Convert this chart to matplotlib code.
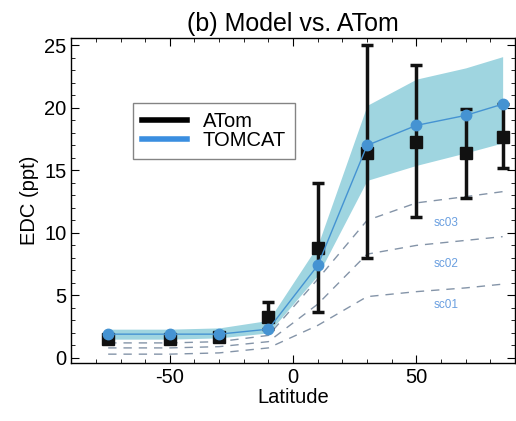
import matplotlib
matplotlib.use("Agg")
import matplotlib.pyplot as plt
from matplotlib.ticker import MultipleLocator

plt.rcParams["font.family"] = ["Liberation Sans", "DejaVu Sans"]
plt.rcParams["axes.unicode_minus"] = False

# latitude bins
lat = [-75, -50, -30, -10, 10, 30, 50, 70, 85]

# ATom observations (mean and error bar range)
atom = [1.5, 1.5, 1.7, 3.3, 8.8, 16.4, 17.3, 16.4, 17.7]
atom_lo = [1.3, 1.3, 1.5, 2.3, 3.7, 8.0, 11.3, 12.8, 15.2]
atom_hi = [1.8, 1.8, 1.9, 4.5, 14.0, 25.0, 23.4, 19.9, 20.3]

# TOMCAT model and spread
tomcat = [1.9, 1.9, 1.9, 2.3, 7.4, 17.0, 18.6, 19.4, 20.3]
tomcat_lo = [1.5, 1.5, 1.6, 2.0, 6.6, 14.2, 15.4, 16.4, 17.2]
tomcat_hi = [2.3, 2.3, 2.4, 3.0, 9.0, 20.2, 22.3, 23.2, 24.1]

# sensitivity scenarios
sc01 = [0.3, 0.3, 0.4, 0.8, 2.6, 4.9, 5.3, 5.6, 5.9]
sc02 = [0.8, 0.8, 0.9, 1.3, 4.3, 8.3, 9.0, 9.4, 9.7]
sc03 = [1.2, 1.2, 1.3, 1.8, 6.3, 11.0, 12.4, 12.9, 13.3]
sc_names = ["sc01", "sc02", "sc03"]
sc_label_pos = [(62, 4.2), (62, 7.5), (62, 10.8)]

blue = "#4593d2"

fig, ax = plt.subplots(figsize=(5.16, 4.21), dpi=100)
fig.subplots_adjust(left=0.138, right=0.998, top=0.91, bottom=0.138)

ax.fill_between(lat, tomcat_lo, tomcat_hi, color="#9fd5e0", lw=0, zorder=1)

for sc in (sc01, sc02, sc03):
    ax.plot(lat, sc, color="#8494a8", lw=1.0, ls=(0, (6, 5)), zorder=2)
for name, (x, y) in zip(sc_names, sc_label_pos):
    ax.text(x, y, name, color="#6a9fe0", fontsize=8.5, ha="center", va="center")

yerr = [[a - l for a, l in zip(atom, atom_lo)], [h - a for a, h in zip(atom, atom_hi)]]
ax.errorbar(lat, atom, yerr=yerr, fmt="s", color="#111111", ms=8, lw=2.5,
            capsize=4, capthick=2.5, zorder=4)
ax.plot(lat, tomcat, color=blue, lw=1.0, marker="o", ms=7.5, zorder=5)

ax.plot([], [], color="black", lw=4, label="ATom")
ax.plot([], [], color="#3a8ee0", lw=4, label="TOMCAT")
leg = ax.legend(loc="upper left", bbox_to_anchor=(0.14, 0.80), fontsize=14.5,
                frameon=True, fancybox=False, edgecolor="#666666",
                handlelength=2.2, borderpad=0.45, labelspacing=0.0,
                handletextpad=0.8, borderaxespad=0.0)
leg.get_frame().set_linewidth(1.0)

ax.set_xlim(-90, 90)
ax.set_ylim(-0.4, 25.6)
ax.set_xticks([-50, 0, 50])
ax.set_yticks([0, 5, 10, 15, 20, 25])
ax.xaxis.set_minor_locator(MultipleLocator(10))
ax.yaxis.set_minor_locator(MultipleLocator(1))
ax.tick_params(which="both", direction="in", top=True, right=True, labelsize=14.5)
ax.tick_params(which="major", length=6)
ax.tick_params(which="minor", length=3)
for s in ax.spines.values():
    s.set_linewidth(1.0)

ax.set_xlabel("Latitude", fontsize=14.5, labelpad=1)
ax.set_ylabel("EDC (ppt)", fontsize=14.5, labelpad=4)
ax.set_title("(b) Model vs. ATom", fontsize=18, pad=5)

fig.savefig("out.png", dpi=100)
